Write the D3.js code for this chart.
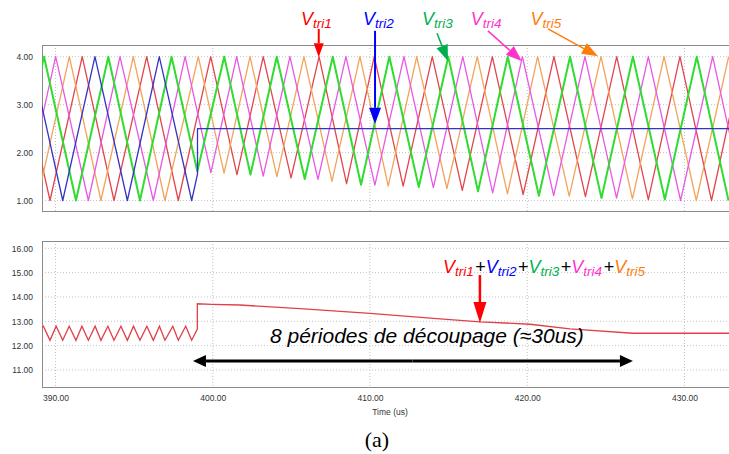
<!DOCTYPE html>
<html>
<head>
<meta charset="utf-8">
<script src="https://cdn.jsdelivr.net/npm/d3@7"></script>
<style>
  body { margin: 0; background: #fff; }
  svg { display: block; font-family: "Liberation Sans", Arial, sans-serif; }
</style>
</head>
<body>
<script>
// tick values
const xTicks = [390, 400, 410, 420, 430];
const topTicks = [1, 2, 3, 4];
const botTicks = [11, 12, 13, 14, 15, 16];

// carrier vertices [time (us), volts]
const tri1 = [[387.62,4],[389.65,1],[391.70,4],[393.72,1],[395.80,4],[397.81,1],[399.87,4],[401.54,1.54],
  [403.21,4],[404.98,1.47],[406.76,4],[408.51,1.35],[410.27,4],[412.11,1.30],[413.96,4],[415.87,1.21],
  [417.78,4],[419.74,1.125],[421.70,4],[423.70,1.08],[425.69,4],[427.70,1.02],[429.71,4],[431.72,1.0],[433.7,4]];
const tri2 = [[388.44,4],[390.46,1],[392.51,4],[394.57,1],[396.60,4],[398.66,1],[399.03,1.55],[399.03,2.5],[433.5,2.5]];
const tri3 = [[387.23,1],[389.27,4],[391.30,1],[393.36,4],[395.37,1],[397.38,4],[399.02,1.61],[400.73,4],
  [402.40,1.54],[404.07,4],[405.85,1.45],[407.63,4],[409.43,1.33],[411.23,4],[413.10,1.28],[414.98,4],
  [416.87,1.19],[418.76,4],[420.74,1.10],[422.72,4],[424.72,1.05],[426.72,4],[428.75,1.02],[430.78,4],[432.8,1.0]];
const tri4 = [[387.98,1],[390.01,4],[392.09,1],[394.10,4],[396.22,1],[398.24,4],[399.88,1.58],[401.52,4],
  [403.21,1.51],[404.91,4],[406.69,1.44],[408.47,4],[410.31,1.32],[412.16,4],[414.03,1.27],[415.90,4],
  [417.80,1.16],[419.69,4],[421.68,1.10],[423.67,4],[425.68,1.05],[427.70,4],[429.75,1.0],[431.79,4],[433.8,1.0]];
const tri5 = [[388.84,1],[390.88,4],[392.89,1],[394.95,4],[396.96,1],[399.08,4],[400.72,1.57],[402.37,4],
  [404.08,1.50],[405.80,4],[407.58,1.40],[409.36,4],[411.16,1.30],[412.97,4],[414.89,1.25],[416.82,4],
  [418.74,1.14],[420.66,4],[422.67,1.09],[424.69,4],[426.69,1.035],[428.70,4],[430.75,1.0],[432.81,4]];

// sum of the five carriers
const sumTrace = [[389.14,12.76],[389.23,12.8],[389.65,12.22],[390.04,12.8],[390.46,12.22],[390.87,12.8],
  [391.30,12.22],[391.68,12.8],[392.09,12.22],[392.52,12.8],[392.89,12.22],[393.33,12.8],[393.72,12.22],
  [394.16,12.8],[394.57,12.22],[394.96,12.8],[395.37,12.22],[395.81,12.8],[396.22,12.22],[396.61,12.8],
  [396.96,12.22],[397.46,12.8],[397.81,12.22],[398.28,12.8],[398.66,12.22],[399.02,12.68],[399.02,13.72],
  [399.95,13.70],[401.73,13.67],[405.55,13.52],[410.0,13.33],[414.45,13.10],[417.0,12.98],[420.17,12.88],
  [422.72,12.69],[426.72,12.51],[433.5,12.51]];

const carriers = [
  {name: "tri1", data: tri1, color: "#e2454c", width: 1.3},
  {name: "tri5", data: tri5, color: "#f3a35a", width: 1.3},
  {name: "tri4", data: tri4, color: "#e957e4", width: 1.3},
  {name: "tri3", data: tri3, color: "#2fdc2f", width: 2},
  {name: "tri2", data: tri2, color: "#3434c4", width: 1.3}
];

const W = 729, H = 454;
const left = 42, right = 731;
const top1 = 45, bot1 = 211, top2 = 241, bot2 = 387;

const svg = d3.select("body").append("svg").attr("width", W).attr("height", H);

const x = d3.scaleLinear().domain([390, 430]).range([55.5, 684.5]);
const y1 = d3.scaleLinear().domain([1, 4]).range([200.5, 56.7]);
const y2 = d3.scaleLinear().domain([11, 16]).range([370, 248.3]);

const defs = svg.append("defs");
defs.append("clipPath").attr("id", "c1").append("rect")
  .attr("x", left).attr("y", top1).attr("width", right - left).attr("height", bot1 - top1);
defs.append("clipPath").attr("id", "c2").append("rect")
  .attr("x", left).attr("y", top2).attr("width", right - left).attr("height", bot2 - top2);

function panel(y, ticks, t, b) {
  const g = svg.append("g");
  // grid
  g.selectAll(".hg").data(ticks).join("line")
    .attr("x1", left).attr("x2", right)
    .attr("y1", d => y(d)).attr("y2", d => y(d))
    .attr("stroke", "#c4c4c4").attr("stroke-dasharray", "1,2");
  g.selectAll(".vg").data(xTicks).join("line")
    .attr("x1", d => x(d)).attr("x2", d => x(d))
    .attr("y1", t).attr("y2", b)
    .attr("stroke", "#c4c4c4").attr("stroke-dasharray", "1,2");
  // frame
  g.append("rect").attr("x", left + 0.5).attr("y", t + 0.5)
    .attr("width", right - left).attr("height", b - t)
    .attr("fill", "none").attr("stroke", "#8a8a8a");
  // y axis
  const ax = g.append("g").attr("transform", `translate(${left},0)`)
    .call(d3.axisLeft(y).tickValues(ticks).tickFormat(d3.format(".2f")).tickSize(0).tickPadding(9));
  ax.select(".domain").remove();
  ax.selectAll("text").attr("font-size", 8.5).attr("fill", "#333")
    .attr("font-family", "Liberation Sans, Arial, sans-serif");
  return g;
}

panel(y1, topTicks, top1, bot1);
panel(y2, botTicks, top2, bot2);

// x axis
const xa = svg.append("g").attr("transform", `translate(0,${bot2})`)
  .call(d3.axisBottom(x).tickValues(xTicks).tickFormat(d3.format(".2f")).tickSize(0).tickPadding(8));
xa.select(".domain").remove();
xa.selectAll("text").attr("font-size", 8.5).attr("fill", "#333")
  .attr("font-family", "Liberation Sans, Arial, sans-serif");

svg.append("text").attr("x", 390).attr("y", 415).attr("text-anchor", "middle")
  .attr("font-size", 8.5).attr("fill", "#333").text("Time (us)");

// traces
const line1 = d3.line().x(d => x(d[0])).y(d => y1(d[1]));
const line2 = d3.line().x(d => x(d[0])).y(d => y2(d[1]));

const gt = svg.append("g").attr("clip-path", "url(#c1)");
gt.selectAll("path").data(carriers).join("path")
  .attr("d", d => line1(d.data))
  .attr("fill", "none")
  .attr("stroke", d => d.color)
  .attr("stroke-width", d => d.width)
  .attr("stroke-linejoin", "round");

svg.append("g").attr("clip-path", "url(#c2)").append("path")
  .attr("d", line2(sumTrace))
  .attr("fill", "none").attr("stroke", "#e0404a").attr("stroke-width", 1.3);

// annotations
function arrow(x1, yA, x2, yB, color, w, len, half) {
  const dx = x2 - x1, dy = yB - yA, L = Math.hypot(dx, dy);
  const ux = dx / L, uy = dy / L;
  const bx = x2 - ux * len, by = yB - uy * len;
  svg.append("line").attr("x1", x1).attr("y1", yA).attr("x2", bx).attr("y2", by)
    .attr("stroke", color).attr("stroke-width", w);
  svg.append("polygon")
    .attr("points", [[x2, yB], [bx - uy * half, by + ux * half], [bx + uy * half, by - ux * half]].join(" "))
    .attr("fill", color);
}

function label(xp, yp, parts) {
  const t = svg.append("text").attr("x", xp).attr("y", yp).attr("font-style", "italic");
  let shifted = false;
  parts.forEach(p => {
    const s = t.append("tspan").text(p.s).attr("fill", p.c);
    if (p.sub) {
      s.attr("font-size", 13.5);
      if (!shifted) { s.attr("dy", 3); shifted = true; }
    } else {
      s.attr("font-size", 18).attr("font-style", p.plus ? "normal" : "italic");
      if (p.plus) s.attr("dx", 1.5);
      if (shifted) { s.attr("dy", -3); shifted = false; }
    }
  });
}

const tops = [
  {n: "1", c: "#ff0000", lx: 405.61, tail: [406.74, 4.58], tip: [406.74, 3.99], len: 14, half: 5, w: 2},
  {n: "2", c: "#0000ff", lx: 409.55, tail: [410.32, 4.54], tip: [410.32, 2.60], len: 16, half: 6, w: 2},
  {n: "3", c: "#00b050", lx: 413.3, tail: [414.26, 4.49], tip: [414.96, 3.91], len: 16, half: 6, w: 1.5},
  {n: "4", c: "#ff33cc", lx: 416.4, tail: [417.5, 4.54], tip: [419.65, 3.91], len: 16, half: 6, w: 1.5},
  {n: "5", c: "#ff7c0a", lx: 420.2, tail: [421.32, 4.58], tip: [424.5, 4.01], len: 16, half: 6, w: 1.5}
];
tops.forEach(a => {
  label(x(a.lx), y1(4.66), [{s: "V", c: a.c}, {s: "tri" + a.n, c: a.c, sub: true}]);
  arrow(x(a.tail[0]), y1(a.tail[1]), x(a.tip[0]), y1(a.tip[1]), a.c, a.w, a.len, a.half);
});

// sum label
const sumParts = [];
tops.forEach((a, i) => {
  if (i > 0) sumParts.push({s: "+", c: "#000", plus: true});
  sumParts.push({s: "V", c: a.c});
  sumParts.push({s: "tri" + a.n, c: a.c, sub: true});
});
label(x(414.64), y2(14.99), sumParts);
arrow(x(416.99), y2(14.9), x(416.99), y2(12.93), "#ff0000", 2.5, 21, 6.5);

// double arrow
arrow(x(412.7), y2(11.37), x(398.74), y2(11.37), "#000", 3, 13, 6);
arrow(x(412.7), y2(11.37), x(426.72), y2(11.37), "#000", 3, 13, 6);
svg.append("text").attr("x", x(413.62)).attr("y", y2(12.1)).attr("text-anchor", "middle")
  .attr("font-size", 21).attr("font-style", "italic").attr("fill", "#000")
  .text("8 périodes de découpage (≈30us)");

svg.append("text").attr("x", 377).attr("y", 447).attr("text-anchor", "middle")
  .attr("font-family", "Liberation Serif, Times New Roman, serif").attr("font-size", 22)
  .attr("fill", "#000").text("(a)");
</script>
</body>
</html>
